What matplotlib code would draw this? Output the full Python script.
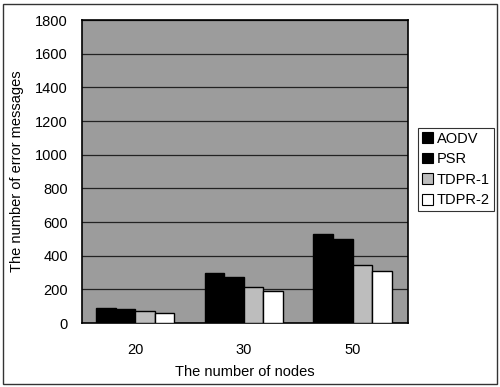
import matplotlib
matplotlib.use("Agg")
import matplotlib.pyplot as plt
import numpy as np
from matplotlib.patches import Rectangle, Patch

plt.rcParams['font.family'] = ['Liberation Sans', 'DejaVu Sans']

categories = ["20", "30", "50"]
series_names = ["AODV", "PSR", "TDPR-1", "TDPR-2"]
aodv = [92, 297, 532]
psr = [82, 277, 502]
tdpr1 = [70, 215, 347]
tdpr2 = [62, 190, 307]
yticks = [0, 200, 400, 600, 800, 1000, 1200, 1400, 1600, 1800]

series = [aodv, psr, tdpr1, tdpr2]
colors = ["#000000", "#000000", "#bdbdbd", "#ffffff"]

fig = plt.figure(figsize=(5.0, 3.87), dpi=100)
ax = fig.add_axes([0.164, 0.165, 0.652, 0.783])
ax.set_facecolor("#9c9c9c")

x = np.arange(len(categories))
w = 0.18
offsets = [-1.5 * w, -0.5 * w, 0.5 * w, 1.5 * w]
for vals, col, off, name in zip(series, colors, offsets, series_names):
    ax.bar(x + off, vals, width=w, color=col, edgecolor="black", linewidth=1.0,
           zorder=3, label=name)

ax.set_xlim(-0.49, 2.51)
ax.set_ylim(0, 1800)
ax.set_yticks(yticks)
ax.set_xticks(x)
ax.set_xticklabels(categories)
ax.yaxis.grid(True, color="#222222", linewidth=0.9, zorder=1)
ax.set_axisbelow(True)
ax.tick_params(axis="y", length=0, pad=10, labelsize=10.5)
ax.tick_params(axis="x", length=0, pad=14, labelsize=10.5)
for s in ax.spines.values():
    s.set_color("black")
    s.set_linewidth(1.2)

ax.set_xlabel("The number of nodes", fontsize=10.5, labelpad=6)
ax.set_ylabel("The number of error messages", fontsize=10.5, labelpad=8)

handles = [Patch(facecolor=c, edgecolor="black", linewidth=0.8) for c in colors]
leg = fig.legend(handles, series_names, loc="upper left",
                 bbox_to_anchor=(418 / 500, 1 - 128 / 387),
                 bbox_transform=fig.transFigure,
                 fontsize=10.5, frameon=True, fancybox=False,
                 handlelength=0.75, handleheight=0.75, handletextpad=0.3,
                 borderpad=0.25, labelspacing=0.45, borderaxespad=0)
leg.get_frame().set_edgecolor("black")
leg.get_frame().set_linewidth(0.8)

fig.patches.append(Rectangle((3 / 500, 3 / 387), 494 / 500, 380 / 387,
                             transform=fig.transFigure, fill=False,
                             edgecolor="#333333", linewidth=1.0))

fig.savefig("out.png", dpi=100)
